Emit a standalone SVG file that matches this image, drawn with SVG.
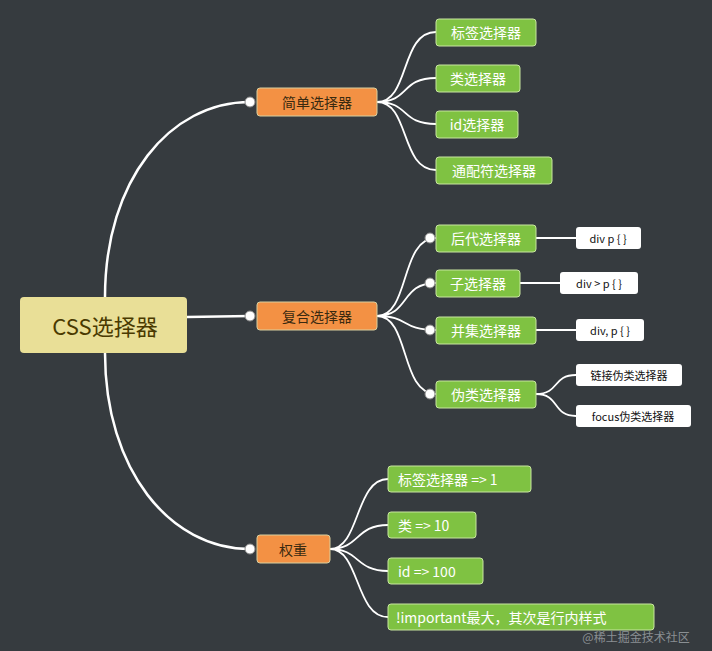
<svg xmlns="http://www.w3.org/2000/svg" width="712" height="651" viewBox="0 0 712 651">
<style>
text{font-family:"Noto Sans CJK SC","Liberation Sans",sans-serif;dominant-baseline:central;text-anchor:middle}
.c{fill:none;stroke:#fff;stroke-width:2.5}
.t{fill:none;stroke:#fff;stroke-width:1.8}
.o{fill:#f39144;stroke:#d9d0a0;stroke-width:1}
.g{fill:#7fc242;stroke:#c8e6a0;stroke-width:1}
.w{fill:#fff}
.ot{font-size:14px;fill:#3a2a10}
.gt{font-size:14px;fill:#fff}
.wt{font-size:11px;fill:#111}
.k{fill:#fff;stroke:#888;stroke-width:1}
</style>
<rect width="712" height="651" fill="#363b3f"/>
<g id="connectors">
<path class="c" d="M105 297 C105 180 170 102 250 102"/>
<path class="c" d="M187 317 L250 316"/>
<path class="c" d="M105 353 C105 470 170 549 250 549"/>
<path class="t" d="M377 102 C410 102 400 32 436 32 M377 102 C410 102 400 78 436 78 M377 102 C410 102 400 124 436 124 M377 102 C410 102 400 170 436 170"/>
<path class="t" d="M377 316 C410 316 400 238 436 238 M377 316 C410 316 400 283 436 283 M377 316 C410 316 400 330 436 330 M377 316 C410 316 400 394 436 394"/>
<path class="t" d="M536 238 L576 238 M520 283 L560 283 M536 330 L576 330 M536 394 C560 394 552 375 576 375 M536 394 C560 394 552 416 576 416"/>
<path class="t" d="M330 549 C360 549 355 479 388 479 M330 549 C360 549 355 525 388 525 M330 549 C360 549 355 571 388 571 M330 549 C360 549 355 617 388 617"/>
</g>
<g id="root"><rect x="20" y="297" width="167" height="56" rx="4" fill="#e9df97"/><text x="105" y="325" font-size="22" fill="#4a3a00">CSS选择器</text></g>
<g id="simple"><rect class="o" x="257" y="88" width="120" height="28" rx="3"/><text class="ot" x="317" y="102">简单选择器</text><circle class="k" cx="250" cy="102" r="5"/></g>
<g id="compound"><rect class="o" x="257" y="302" width="120" height="28" rx="3"/><text class="ot" x="317" y="316">复合选择器</text><circle class="k" cx="250" cy="316" r="5"/></g>
<g id="weight"><rect class="o" x="257" y="535" width="73" height="28" rx="3"/><text class="ot" x="293" y="549">权重</text><circle class="k" cx="250" cy="549" r="5"/></g>
<g id="s1"><rect class="g" x="436" y="19" width="100" height="27" rx="3"/><text class="gt" x="486" y="32">标签选择器</text></g>
<g id="s2"><rect class="g" x="436" y="65" width="84" height="27" rx="3"/><text class="gt" x="478" y="78">类选择器</text></g>
<g id="s3"><rect class="g" x="436" y="111" width="82" height="27" rx="3"/><text class="gt" x="477" y="124">id选择器</text></g>
<g id="s4"><rect class="g" x="436" y="157" width="116" height="27" rx="3"/><text class="gt" x="494" y="170">通配符选择器</text></g>
<g id="c1"><rect class="g" x="436" y="225" width="100" height="27" rx="3"/><text class="gt" x="486" y="238">后代选择器</text><circle class="k" cx="430" cy="238" r="5"/></g>
<g id="c2"><rect class="g" x="436" y="270" width="84" height="27" rx="3"/><text class="gt" x="478" y="283">子选择器</text><circle class="k" cx="430" cy="283" r="5"/></g>
<g id="c3"><rect class="g" x="436" y="317" width="100" height="27" rx="3"/><text class="gt" x="486" y="330">并集选择器</text><circle class="k" cx="430" cy="330" r="5"/></g>
<g id="c4"><rect class="g" x="436" y="381" width="100" height="27" rx="3"/><text class="gt" x="486" y="394">伪类选择器</text><circle class="k" cx="430" cy="394" r="5"/></g>
<g id="w1"><rect class="w" x="576" y="227" width="65" height="22" rx="3"/><text class="wt" x="608" y="238">div p { }</text></g>
<g id="w2"><rect class="w" x="560" y="272" width="78" height="22" rx="3"/><text class="wt" x="599" y="283">div &gt; p { }</text></g>
<g id="w3"><rect class="w" x="576" y="319" width="68" height="22" rx="3"/><text class="wt" x="610" y="330">div, p { }</text></g>
<g id="w4"><rect class="w" x="576" y="364" width="106" height="22" rx="3"/><text class="wt" x="629" y="375">链接伪类选择器</text></g>
<g id="w5"><rect class="w" x="576" y="405" width="115" height="22" rx="3"/><text class="wt" x="633" y="416">focus伪类选择器</text></g>
<g id="p1"><rect class="g" x="388" y="466" width="143" height="26" rx="3"/><text class="gt" x="398" y="479" style="text-anchor:start">标签选择器 =&gt; 1</text></g>
<g id="p2"><rect class="g" x="388" y="512" width="88" height="26" rx="3"/><text class="gt" x="398" y="525" style="text-anchor:start">类 =&gt; 10</text></g>
<g id="p3"><rect class="g" x="388" y="558" width="95" height="26" rx="3"/><text class="gt" x="398" y="571" style="text-anchor:start">id =&gt; 100</text></g>
<g id="p4"><rect class="g" x="388" y="604" width="266" height="26" rx="3"/><text class="gt" x="396" y="617" style="text-anchor:start">!important最大，其次是行内样式</text></g>
<text x="636" y="636" font-size="12" fill="#8a8f93">@稀土掘金技术社区</text>
</svg>
